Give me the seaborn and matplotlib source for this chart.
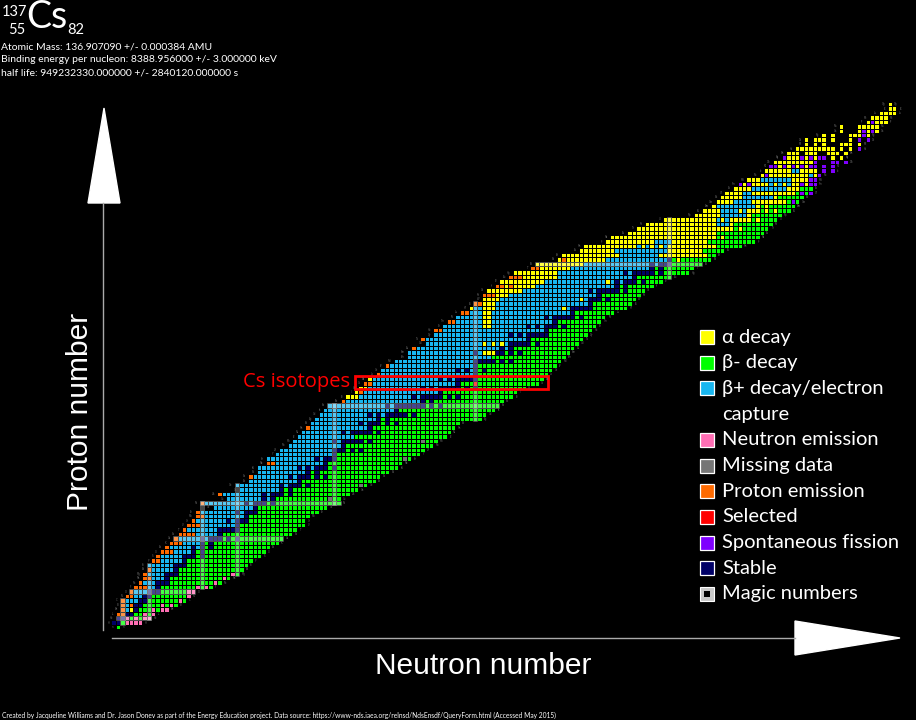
import re
import numpy as np
import pandas as pd
import matplotlib
matplotlib.use("Agg")
import matplotlib.pyplot as plt
from matplotlib.colors import ListedColormap
from matplotlib.patches import Polygon, Rectangle
import seaborn as sns

# decay modes: code letter, legend text, colour
mode_keys = ["Y", "G", "B", "P", "M", "O", "R", "F", "S"]
mode_colors = ["#FFFF00", "#00FF00", "#18B6F0", "#FF6EB4", "#767676",
               "#FF6A00", "#FF0000", "#7F00FF", "#000066"]
legend_labels = ["α decay", "β- decay", "β+ decay/electron", "capture",
                 "Neutron emission", "Missing data", "Proton emission",
                 "Selected", "Spontaneous fission", "Stable", "Magic numbers"]
legend_keys = ["Y", "G", "B", None, "P", "M", "O", "R", "F", "S", "magic"]

magic_numbers = [2, 8, 20, 28, 50, 82, 126]

symbols = ["n", "H", "He", "Li", "Be", "B", "C", "N", "O", "F", "Ne", "Na", "Mg",
           "Al", "Si", "P", "S", "Cl", "Ar", "K", "Ca", "Sc", "Ti", "V", "Cr", "Mn",
           "Fe", "Co", "Ni", "Cu", "Zn", "Ga", "Ge", "As", "Se", "Br", "Kr", "Rb",
           "Sr", "Y", "Zr", "Nb", "Mo", "Tc", "Ru", "Rh", "Pd", "Ag", "Cd", "In",
           "Sn", "Sb", "Te", "I", "Xe", "Cs", "Ba", "La", "Ce", "Pr", "Nd", "Pm",
           "Sm", "Eu", "Gd", "Tb", "Dy", "Ho", "Er", "Tm", "Yb", "Lu", "Hf", "Ta",
           "W", "Re", "Os", "Ir", "Pt", "Au", "Hg", "Tl", "Pb", "Bi", "Po", "At",
           "Rn", "Fr", "Ra", "Ac", "Th", "Pa", "U", "Np", "Pu", "Am", "Cm", "Bk",
           "Cf", "Es", "Fm", "Md", "No", "Lr", "Rf", "Db", "Sg", "Bh", "Hs", "Mt",
           "Ds", "Rg", "Cn", "Nh", "Fl", "Mc", "Lv", "Ts", "Og"]

# first neutron number of each row (Z = 0..118)
row_start = [1, 0, 1, 1, 2, 2, 2, 3, 4, 5,
             6, 7, 7, 8, 8, 9, 10, 11, 12, 13,
             14, 15, 16, 17, 18, 19, 19, 23, 20, 26,
             24, 29, 28, 31, 31, 33, 33, 35, 35, 37,
             38, 40, 41, 42, 43, 44, 45, 46, 47, 48,
             49, 52, 53, 55, 56, 57, 58, 60, 61, 62,
             64, 67, 67, 68, 71, 70, 73, 73, 75, 76,
             78, 79, 81, 82, 84, 84, 85, 87, 88, 90,
             91, 95, 96, 101, 102, 106, 107, 112, 113, 117,
             119, 121, 125, 132, 134, 136, 137, 138, 139, 141,
             142, 144, 147, 148, 149, 150, 152, 153, 155, 157,
             157, 161, 165, 165, 171, 172, 174, 176, 176]

# run-length codes along each row (letter = decay mode, '.' = no nuclide)
row_codes = [
    "G1", "S2G1P4", "S2P1G1P1G1P2", "O2S2G2P1G1P1", "O1B1Y1S1G3P1G1P2",
    "O1B1O1S2G4P1G1P1G1", "O1B3S2G7P1G1", "O2B2S2G8P1", "O1B3S3G6P2",
    "O3B2S1G8P1G1P1G1",
    "O1B3S3G10P1G1", "O2B3S1G12P1G1", "O1B4S3G12P1G1", "O1B5S1G15",
    "B6S3G14", "O2B5S1G15", "O1B5S3G1S1G13", "O3B4S1G1S1G14",
    "O1B5S1B1S1G1S1G13", "O3B4S1G1S1G15",
    "O1B5S1B1S3G1S1G1S1G10", "O4B5S1G16", "O1B7S5G13", "O3B8S1G15",
    "O1B7S1B1S3G13", "O2B9S1G14", "O1B8S1B1S3G14", "B9S1G16",
    "O1B9S1B1S3G1S1G15", "B8S1B1S1G12M1G2",
    "O1B9S1B1S3G1S1G13", "B9S1G1S1G15", "B10S1B1S3G1S1G11M1G1",
    "B11S1G17", "O1B8S1B1S3G1S1G1S1G12", "B11S1G1S1G16",
    "B9S1B1S1B1S3G1S1G14", "O2B11S1G17", "B11S1B1S3G15M1G1", "B13S1G19",
    "B12S3G1S1G1S1G14", "B12S1G20", "B9S1B1S5G1S1G11M1G3", "B13G21",
    "B9S1B1S5G1S1G16", "O1B13S1G19", "B11S1B1S3G1S1G1S1G14",
    "B14S1G1S1G21", "B11S1B1S1B1S5G1S1G16", "B16S1G22",
    "B13S1B1S7G1S1G1S1G13", "O1B17S1G1S1G16", "Y3B12S1B1S5G1S1G1S1G12",
    "Y1O1B17S1G17", "Y2B12S1B1S1B1S5G1S1G1S1G11", "O2B19S1G3R1G14",
    "Y1B15S1B1S1B1S5G15", "O1B21S1G16", "B17S1B1S1B1S1G1S1G15",
    "O1B19S1G18",
    "B18S5G1S1G1S1G11", "B19G17", "B15S1B1Y3S2G1S1G1S1G11",
    "O1B19S1B1S1G14", "B13Y1B1Y1B1Y1B1S5G1S1G9", "O1B23S1G12",
    "B17S1B1S1B1S5G9", "O2B23S1G10", "B9Y2B8S1B1S1B1S3G1S1G7",
    "O2B6Y2B14S1G10",
    "B6Y2B12S1B1S5G1S1G5", "O2B3Y2B18S1G9", "Y1B2Y3B15Y1B1S5G8",
    "O2Y3B21S1G9", "Y4B18Y1B1S3G1S1G6", "O3Y3B20S1G9",
    "Y8B15S1B1S5G1S1G4", "O2Y1O1Y5B18S1G1S1G6",
    "Y10B14Y1B1S1B1S3G1S1G4", "O3Y8B17S1G8",
    "Y10B15S1B1S5G1S1G6", "O2Y7B18S1G1S1G7", "Y11B15S1B1S3G7",
    "Y1O1Y9B14S1G1Y1G7", "Y13B9Y11G2", "Y8B12Y8G5",
    "Y12B1Y1B1Y1B1Y1B1Y11G6", "Y11B4Y8G11", "Y24G1Y1G8", "Y20G11",
    "Y22G1Y1G6", "Y16B3Y1G9", "Y12B1Y1B1Y5G1Y1G4", "Y6B6Y1G7",
    "Y4B4Y1B1Y3G1Y1G1Y1G3", "Y1B9Y1G1Y1G6", "Y4B4Y8G1F1G1", "Y5B7Y1G6",
    "Y4B2Y10G1F1G1F1", "Y4B8Y3G3",
    "F1Y1F1Y4B1Y1B1Y1B1Y2F1Y1F2", "Y3B7Y4F2", "Y1F1Y9B1Y1F1",
    "Y6B2Y4.1F1.1F1", "F2Y1F1Y1F1Y1F1Y1F2.1F1.1F1", "Y9F1.3F2.1F1",
    "F1Y3F1Y1F1Y1F2.1Y1.1Y1", "Y3.1Y3.2Y3.1Y1", "Y9.1Y1.1Y1.1F1",
    "Y1.1Y1.1Y1.3Y3.1Y1",
    "Y1.1Y3.1Y1.3Y1.1F1.1F1", "Y1.1Y1.3Y3F1Y1", "Y1.3Y1F1Y1F1Y1",
    "Y1.3Y5", "Y1F1Y3", "Y4", "Y4", "Y2", "Y1",
]

selected_z = 55
header_lines = ["Atomic Mass: 136.907090 +/- 0.000384 AMU",
                "Binding energy per nucleon: 8388.956000 +/- 3.000000 keV",
                "half life: 949232330.000000 +/- 2840120.000000 s"]
footer = ("Created by Jacqueline Williams and Dr. Jason Donev as part of the "
          "Energy Education project. Data source: "
          "https://www-nds.iaea.org/relnsd/NdsEnsdf/QueryForm.html (Accessed May 2015)")

# build the Z x N grid of decay-mode codes
n_cols = 178
grid = np.full((len(row_codes), n_cols), np.nan)
row_ranges = []
for z, (n0, code) in enumerate(zip(row_start, row_codes)):
    n = n0
    for key, cnt in re.findall(r"([A-Z.])(\d+)", code):
        cnt = int(cnt)
        if key != ".":
            grid[z, n:n + cnt] = mode_keys.index(key)
        n += cnt
    row_ranges.append((n0, n - 1))
chart = pd.DataFrame(grid, index=range(len(row_codes)), columns=range(n_cols))

W, H = 916, 720
fig = plt.figure(figsize=(W / 100, H / 100), dpi=100, facecolor="black")
ax = fig.add_axes([0, 0, 1, 1])
ax.set_facecolor("black")

sns.heatmap(chart, ax=ax, cmap=ListedColormap(mode_colors), vmin=-0.5, vmax=8.5,
            cbar=False, linewidths=0.4, linecolor="black",
            xticklabels=False, yticklabels=False)
# pixel 113.6 -> N=0 centre, pixel 627 -> Z=0 centre, ~4.4 px per nuclide
ax.set_xlim(-25.26, 182.45)
ax.set_ylim(-20.49, 142.03)
ax.axis("off")

# magic number bands: translucent light overlay on the row / column
for m in magic_numbers:
    if m < len(row_ranges):
        lo, hi = row_ranges[m]
        ax.add_patch(Rectangle((lo, m), hi - lo + 1, 1, fc="white", alpha=0.28,
                               ec="#D0D0D0", lw=0.6))
    zs = [z for z, (a, b) in enumerate(row_ranges) if a <= m <= b]
    if zs:
        ax.add_patch(Rectangle((m, min(zs)), 1, max(zs) - min(zs) + 1, fc="white",
                               alpha=0.28, ec="#D0D0D0", lw=0.6))

# tiny row labels at both ends
for z, (lo, hi) in enumerate(row_ranges):
    ax.text(lo - 0.5, z + 0.5, symbols[z], fontsize=1.8, color="#6a6a6a",
            ha="right", va="center")
    ax.text(hi + 1.5, z + 0.5, symbols[z], fontsize=1.8, color="#6a6a6a",
            ha="left", va="center")

# selected isotope chain box
lo, hi = row_ranges[selected_z]
ax.add_patch(Rectangle((lo - 1.8, selected_z - 0.8), hi - lo + 4.8, 3.0,
                       fill=False, ec="#FF0000", lw=2.0))
ax.text(lo - 2.8, selected_z + 0.75, "Cs isotopes", color="#FF0000", fontsize=14.5,
        family=["Open Sans", "DejaVu Sans"], ha="right", va="center")


def fx(px):
    return px / W


def fy(py):
    return 1 - py / H


# axes arrows
fig.add_artist(plt.Line2D([fx(103), fx(103)], [fy(630), fy(203)],
                          color="#AAAAAA", lw=1.0))
fig.add_artist(Polygon([(fx(88), fy(203)), (fx(120), fy(203)), (fx(104), fy(108))],
                       closed=True, fc="white", ec="white",
                       transform=fig.transFigure))
fig.add_artist(plt.Line2D([fx(112), fx(795)], [fy(638), fy(638)],
                          color="#AAAAAA", lw=1.0))
fig.add_artist(Polygon([(fx(795), fy(621)), (fx(795), fy(655)), (fx(900), fy(638))],
                       closed=True, fc="white", ec="white",
                       transform=fig.transFigure))
axis_font = ["Liberation Sans", "DejaVu Sans"]
fig.text(fx(375), fy(674), "Neutron number", color="white", fontsize=21.5,
         family=axis_font, ha="left", va="baseline")
fig.text(fx(80), fy(412), "Proton number", color="white", fontsize=21.5,
         family=axis_font, rotation=90, ha="center", va="center")

# legend
leg_font = ["Lato", "DejaVu Sans"]
for i, (label, key) in enumerate(zip(legend_labels, legend_keys)):
    yc = 337 + i * 25.7
    if key == "magic":
        fig.add_artist(Rectangle((fx(700), fy(yc + 7)), 14 / W, 14 / H,
                                 fc="#C8C8C8", ec="white", lw=0.8,
                                 transform=fig.transFigure))
        fig.add_artist(Rectangle((fx(704), fy(yc + 3)), 6 / W, 6 / H,
                                 fc="black", ec="none", transform=fig.transFigure))
    elif key is not None:
        fig.add_artist(Rectangle((fx(700), fy(yc + 7)), 14 / W, 14 / H,
                                 fc=mode_colors[mode_keys.index(key)], ec="white",
                                 lw=0.9, transform=fig.transFigure))
    fig.text(fx(722), fy(yc), label, color="white", fontsize=14.5, family=leg_font,
             ha="left", va="center")

# header with selected nuclide
hdr_font = ["Lato", "DejaVu Sans"]
fig.text(fx(2), fy(16), "137", color="white", fontsize=10.5, family=hdr_font,
         va="baseline")
fig.text(fx(25), fy(34), "55", color="white", fontsize=10.5, family=hdr_font,
         ha="right", va="baseline")
fig.text(fx(26), fy(28), "Cs", color="white", fontsize=27, family=hdr_font,
         va="baseline")
fig.text(fx(67), fy(34), "82", color="white", fontsize=10.5, family=hdr_font,
         va="baseline")
for i, line in enumerate(header_lines):
    fig.text(fx(1), fy(49 + i * 13.5), line, color="white", fontsize=7.5,
             family=hdr_font, va="baseline")
fig.text(fx(2), fy(718), footer, color="white", fontsize=4.8, family=hdr_font,
         va="baseline")

fig.savefig("out.png", dpi=100, facecolor="black")
